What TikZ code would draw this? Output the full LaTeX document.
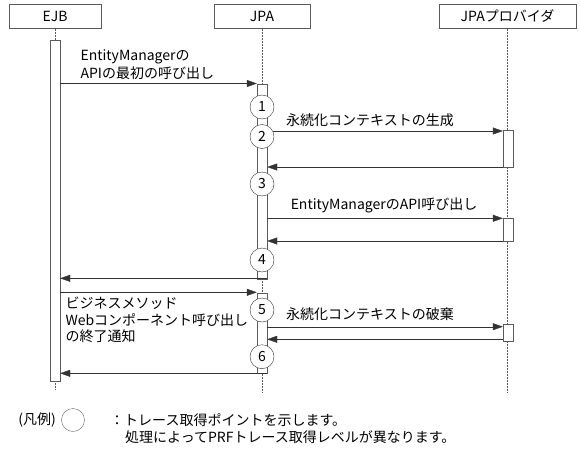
\documentclass[tikz,border=0pt]{standalone}
\usepackage{fontspec}
\setmainfont{Noto Sans CJK JP}
\usetikzlibrary{arrows.meta}
\definecolor{linegray}{RGB}{90,90,90}

\begin{document}
\begin{tikzpicture}[x=1pt, y=-1pt,
    every node/.style={font=\fontsize{14}{18}\selectfont},
    actor/.style={draw=linegray, fill=white, minimum height=24.5pt, inner sep=0pt},
    life/.style={draw=linegray, dash pattern=on 2pt off 1pt},
    bar/.style={draw=linegray, fill=white, minimum width=10pt, inner sep=0pt},
    msg/.style={draw=black!80, -{Triangle[length=10pt, width=7pt]}},
    tracept/.style={circle, draw=black!80, fill=white, minimum size=24pt, inner sep=0pt}]
    \useasboundingbox (0,0) rectangle (580,452);

    % Lifeline heads
    \node[actor, minimum width=92pt]  (ejb)  at (55,16.25)    {EJB};
    \node[actor, minimum width=96pt]  (jpa)  at (262,16.25)   {JPA};
    \node[actor, minimum width=137pt] (prov) at (507.5,16.25) {JPAプロバイダ};

    % Lifelines
    \draw[life] (ejb.south)  -- (ejb.south |- 0,390);
    \draw[life] (jpa.south)  -- (jpa.south |- 0,392);
    \draw[life] (prov.south) -- (prov.south |- 0,393);

    % Activation bars
    \node[bar, minimum height=340.3pt] (ejbbar)   at (55,210.85)   {};
    \node[bar, minimum height=195pt]   (jpabar1)  at (262,181.5)   {};
    \node[bar, minimum height=80.6pt]  (jpabar2)  at (262,333)     {};
    \node[bar, minimum height=37pt]    (provbar1) at (508,148.5)   {};
    \node[bar, minimum height=23pt]    (provbar2) at (508,229.5)   {};
    \node[bar, minimum height=16.5pt]  (provbar3) at (508,332.75)  {};

    % Calls between EJB and JPA
    \draw[msg] (ejbbar.east |- 0,83.5)   -- (jpabar1.west |- 0,83.5);
    \draw[msg] (jpabar1.east |- 0,278.3) -- (ejbbar.east |- 0,278.3);
    \draw[msg] (ejbbar.east |- 0,292.3)  -- (jpabar2.west |- 0,292.3);
    \draw[msg] (jpabar2.east |- 0,373.3) -- (ejbbar.east |- 0,373.3);

    % Calls to the provider and their returns
    \foreach \jb/\pb/\yc/\yr in {jpabar1/provbar1/131/167, jpabar1/provbar2/218.3/241, jpabar2/provbar3/326.7/339.3} {
        \draw[msg] (\jb.east |- 0,\yc) -- (\pb.west |- 0,\yc);
        \draw[msg] (\pb.west |- 0,\yr) -- (\jb.east |- 0,\yr);
    }

    % Trace points
    \foreach \n/\y in {1/107, 2/136.5, 3/184, 4/260, 5/310, 6/356.7} {
        \node[tracept] (pt\n) at (262,\y) {\n};
    }

    % Message labels
    \node[anchor=west, align=left] (callapi) at (77,65) {EntityManagerの\\APIの最初の呼び出し};
    \node (create) at (370,120) {永続化コンテキストの生成};
    \node (useapi) at (384,205) {EntityManagerのAPI呼び出し};
    \node[anchor=west, align=left, font=\fontsize{14}{16.8}\selectfont] (endnote) at (62,320)
        {ビジネスメソッド\\Webコンポーネント呼び出し\\の終了通知};
    \node (destroy) at (370,314) {永続化コンテキストの破棄};

    % Legend
    \node[anchor=east, inner sep=0pt] (legtitle) at (56,420) {(凡例)};
    \node[tracept, minimum size=23pt, draw=black!60] (legpt) at (73,420) {};
    \node[anchor=west, inner sep=0pt] (legtext1) at (110,420) {：トレース取得ポイントを示します。};
    \node[anchor=west, inner sep=0pt] (legtext2) at (125,436.7) {処理によってPRFトレース取得レベルが異なります。};
\end{tikzpicture}
\end{document}
